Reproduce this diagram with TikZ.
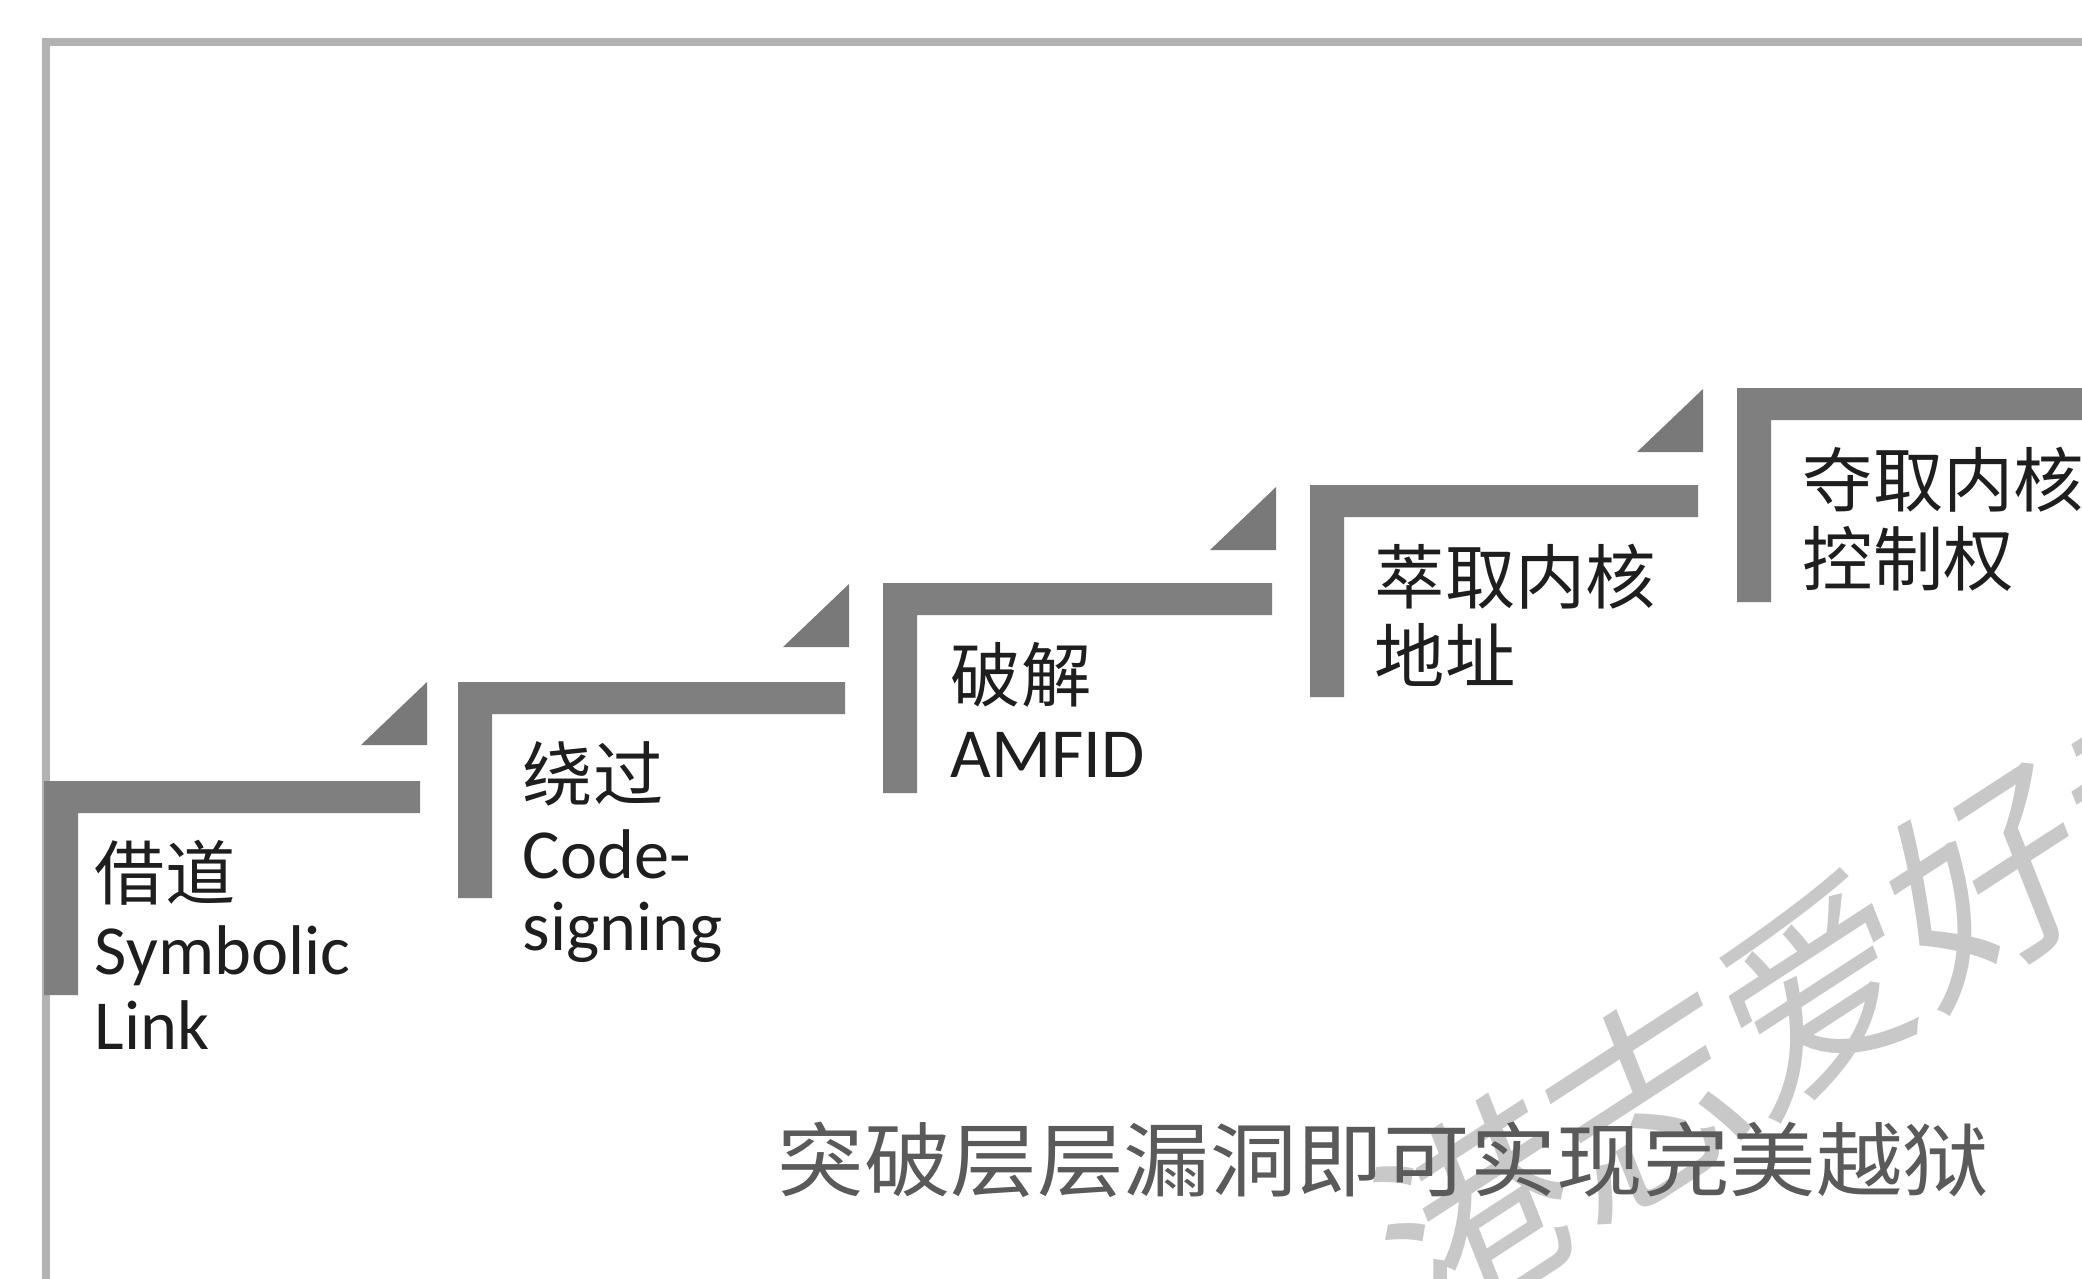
\documentclass[tikz,border=0pt]{standalone}
\usepackage{fontspec}
\setmainfont{Carlito}
\newfontfamily\cjk{Noto Sans CJK SC}
\usetikzlibrary{calc}
\definecolor{stepgray}{HTML}{7F7F7F}
\definecolor{framegray}{HTML}{B2B2B2}
\definecolor{txt}{HTML}{1E1E1E}
\definecolor{captxt}{HTML}{5A5A5A}
\definecolor{wmgray}{HTML}{C8C8C8}
\tikzset{
  stepbar/.style={fill=stepgray, draw=none},
  stepmark/.style={fill=stepgray!95!black, draw=none},
  lbl/.style={anchor=base west, inner sep=0pt, text=txt, font=\fontsize{20}{22}\selectfont},
  cjklbl/.style={lbl, font=\fontsize{20}{22}\selectfont\cjk},
  caption/.style={anchor=base west, inner sep=0pt, text=captxt, font=\fontsize{23}{25}\selectfont\cjk},
  wmark/.style={anchor=base west, inner sep=0pt, text=wmgray, font=\fontsize{58}{60}\selectfont\cjk, rotate=33, xslant=0.2}
}
\newcommand{\stepL}[4]{% x0 y0 x1 yb
  \fill[stepbar] (#1,#2) -- (#3,#2) -- (#3,#2+32) -- (#1+34,#2+32) -- (#1+34,#4) -- (#1,#4) -- cycle;}
\newcommand{\stepT}[2]{% right x, top y
  \fill[stepmark] (#1,#2) -- (#1,#2+63) -- (#1-66,#2+63) -- cycle;}
\begin{document}
\begin{tikzpicture}[x=0.01cm, y=-0.01cm]
\useasboundingbox (0,0) rectangle (2082,1278);
\fill[white] (0,0) rectangle (2082,1278);
% frame
\draw[framegray, line width=2pt] (46,1290) -- (46,42) -- (2090,42);
% watermark
\node[wmark] (wm) at (1418,1343) {港志爱好者};
% steps
\stepL{44}{781}{420}{995}
\stepL{458}{682}{845}{898}
\stepL{883}{583}{1272}{793}
\stepL{1310}{485}{1698}{697}
\stepL{1737}{388}{2100}{602}
% triangles
\stepT{427}{682}
\stepT{849}{584}
\stepT{1276}{487}
\stepT{1703}{389}
% labels
\node[cjklbl] (s1a) at (94,899) {借道};
\node[lbl] (s1b) at (94,974) {Symbolic};
\node[lbl] (s1c) at (94,1049) {Link};
\node[cjklbl] (s2a) at (522,800) {绕过};
\node[lbl] (s2b) at (522,878) {Code-};
\node[lbl] (s2c) at (522,950) {signing};
\node[cjklbl] (s3a) at (950,701) {破解};
\node[lbl] (s3b) at (950,777) {AMFID};
\node[cjklbl] (s4a) at (1374,603) {萃取内核};
\node[cjklbl] (s4b) at (1374,682) {地址};
\node[cjklbl] (s5a) at (1802,506) {夺取内核};
\node[cjklbl] (s5b) at (1802,585) {控制权};
% caption
\node[caption] (cap) at (777,1190) {\scalebox{1.07}[1]{突破层层漏洞即可实现完美越狱}};
\end{tikzpicture}
\end{document}
